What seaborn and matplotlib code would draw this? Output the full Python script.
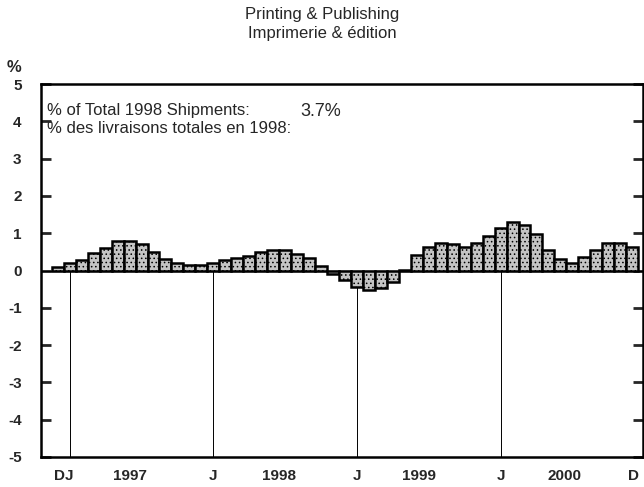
import numpy as np
import pandas as pd
import matplotlib
matplotlib.use("Agg")
import matplotlib.pyplot as plt
import seaborn as sns

# monthly % change, Dec 1996 .. Dec 2000
months = pd.period_range("1996-12", "2000-12", freq="M").strftime("%Y-%m").tolist()
values = [
    0.10, 0.19, 0.28, 0.46, 0.60, 0.80, 0.80, 0.70, 0.49, 0.31, 0.21, 0.14,
    0.14, 0.21, 0.29, 0.33, 0.40, 0.50, 0.56, 0.56, 0.44, 0.34, 0.13, -0.10,
    -0.25, -0.45, -0.52, -0.47, -0.30, 0.02, 0.41, 0.63, 0.75, 0.70, 0.63, 0.75,
    0.92, 1.14, 1.31, 1.23, 0.99, 0.56, 0.31, 0.19, 0.37, 0.56, 0.74, 0.75,
    0.63,
]
tick_pos = [0.5, 6.0, 13, 18.5, 25, 30.2, 37, 42.3, 48.1]
tick_labels = ["DJ", "1997", "J", "1998", "J", "1999", "J", "2000", "D"]
jan_idx = [1, 13, 25, 37]

df = pd.DataFrame({"month": months, "value": values})

sns.set_style("white")
plt.rcParams["font.family"] = ["Liberation Sans", "DejaVu Sans"]
plt.rcParams["hatch.linewidth"] = 0.6

fig = plt.figure(figsize=(6.44, 4.87), dpi=100)
ax = fig.add_axes([41 / 644, 30 / 487, 602 / 644, 373 / 487])

ax.vlines(jan_idx, -5, 0, color="black", linewidth=0.7, zorder=1)
ax.axhline(0, color="black", linewidth=1.0, zorder=1)
sns.barplot(data=df, x="month", y="value", color="#c4c4c4", saturation=1,
            width=1.0, edgecolor="black", linewidth=1.8, ax=ax, zorder=2)
for p in ax.patches:
    p.set_hatch("....")

ax.set_xlim(-1.4, 48.9)
ax.set_ylim(-5, 5)
ax.set_yticks(range(-5, 6))
ax.set_yticklabels([str(v) for v in range(-5, 6)], fontsize=11, fontweight="bold")
ax.set_xticks(tick_pos)
ax.set_xticklabels(tick_labels, fontsize=11, fontweight="bold")
ax.tick_params(axis="x", length=0, pad=9)
ax.tick_params(axis="y", direction="in", length=7, width=2, right=True, left=True, pad=14)
ax.set_xlabel("")
ax.set_ylabel("")
for s in ax.spines.values():
    s.set_linewidth(1.8)
    s.set_color("black")

ax.text(0.01, 0.93, "% of Total 1998 Shipments:", transform=ax.transAxes,
        fontsize=12, va="center")
ax.text(0.43, 0.925, "3.7%", transform=ax.transAxes, fontsize=13, va="center")
ax.text(0.01, 0.88, "% des livraisons totales en 1998:", transform=ax.transAxes,
        fontsize=12, va="center")

fig.text(14 / 644, 1 - 67 / 487, "%", fontsize=12, fontweight="bold",
         ha="center", va="center")
fig.text(322 / 644, 1 - 14 / 487, "Printing & Publishing", fontsize=12,
         ha="center", va="center")
fig.text(322 / 644, 1 - 33 / 487, "Imprimerie & édition", fontsize=12,
         ha="center", va="center")

fig.savefig("out.png", dpi=100)
